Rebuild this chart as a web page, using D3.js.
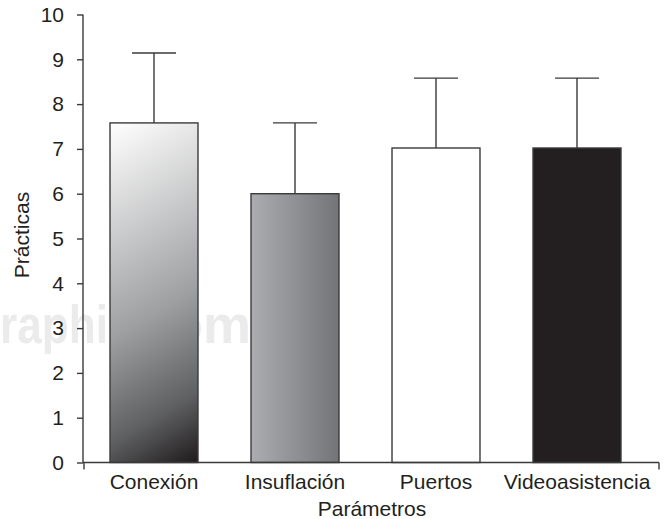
<!DOCTYPE html>
<html>
<head>
<meta charset="utf-8">
<script src="https://cdn.jsdelivr.net/npm/d3@7/dist/d3.min.js"></script>
<style>
  html, body { margin: 0; padding: 0; background: #fff; }
  svg { display: block; }
  text { font-family: "Liberation Sans", Arial, sans-serif; fill: #231f20; }
</style>
</head>
<body>
<script>
const categories = ["Conexión", "Insuflación", "Puertos", "Videoasistencia"];
const means = [7.58, 6.0, 7.02, 7.02];
const sds = [1.56, 1.58, 1.56, 1.56];
const yTicks = [0, 1, 2, 3, 4, 5, 6, 7, 8, 9, 10];
const xTitle = "Parámetros";
const yTitle = "Prácticas";

const W = 668, H = 519;
const axisColor = "#3a3a3a";

const svg = d3.select("body").append("svg").attr("width", W).attr("height", H);
const defs = svg.append("defs");

const y = d3.scaleLinear().domain([0, 10]).range([462.5, 14.5]);
const x = d3.scaleBand().domain(categories).range([83.5, 647.5])
  .paddingInner(0.376).paddingOuter(0.188);

// watermark
const wm = svg.append("g").attr("font-weight", "bold").attr("font-size", 54);
wm.append("text").attr("x", 0).attr("y", 343).attr("textLength", 108)
  .attr("lengthAdjust", "spacingAndGlyphs").style("fill", "#ebebeb").text("raphi");
wm.append("text").attr("x", 251).attr("y", 343).attr("text-anchor", "end").style("fill", "#ebebeb").text("om");

// gradients
const bw = x.bandwidth();
{
  const x0 = x(categories[0]), y0 = y(means[0]), h = y(0) - y(means[0]);
  const len = Math.hypot(0.6, 1);
  const ux = 0.6 / len, uy = 1 / len;
  const proj = bw * ux + h * uy;
  const g = defs.append("linearGradient").attr("id", "g0")
    .attr("gradientUnits", "userSpaceOnUse")
    .attr("x1", x0).attr("y1", y0)
    .attr("x2", x0 + ux * proj).attr("y2", y0 + uy * proj);
  g.append("stop").attr("offset", 0).attr("stop-color", "#ffffff");
  g.append("stop").attr("offset", 0.55).attr("stop-color", "#9fa0a2");
  g.append("stop").attr("offset", 0.82).attr("stop-color", "#5f6062");
  g.append("stop").attr("offset", 1).attr("stop-color", "#1e1a1b");
}
{
  const g = defs.append("linearGradient").attr("id", "g1")
    .attr("x1", 0).attr("y1", 0).attr("x2", 1).attr("y2", 0);
  g.append("stop").attr("offset", 0).attr("stop-color", "#abadb0");
  g.append("stop").attr("offset", 1).attr("stop-color", "#737477");
}
const fills = ["url(#g0)", "url(#g1)", "#ffffff", "#231f20"];

// bars
const bars = svg.append("g");
categories.forEach((c, i) => {
  const cx = x(c) + bw / 2;
  bars.append("line")
    .attr("x1", cx).attr("x2", cx)
    .attr("y1", y(means[i])).attr("y2", y(means[i] + sds[i]))
    .attr("stroke", axisColor).attr("stroke-width", 1.4);
  bars.append("line")
    .attr("x1", cx - 22).attr("x2", cx + 22)
    .attr("y1", y(means[i] + sds[i])).attr("y2", y(means[i] + sds[i]))
    .attr("stroke", axisColor).attr("stroke-width", 1.4);
  bars.append("rect")
    .attr("x", x(c)).attr("y", y(means[i]))
    .attr("width", bw).attr("height", y(0) - y(means[i]))
    .attr("fill", fills[i])
    .attr("stroke", axisColor).attr("stroke-width", 1.4);
});

// y axis
const yAxis = svg.append("g").attr("transform", "translate(83,0)")
  .call(d3.axisLeft(y).tickValues(yTicks).tickSize(6).tickPadding(13).tickFormat(d3.format("d")));
yAxis.select(".domain").attr("stroke", axisColor).attr("stroke-width", 1.4).attr("d", `M0,${y(10)}V${y(0)}`);
yAxis.selectAll(".tick line").attr("stroke", axisColor).attr("stroke-width", 1.4);
yAxis.selectAll(".tick text").attr("font-size", 21).attr("font-family", null).style("fill", "#231f20");

// x axis
const xAxisG = svg.append("g");
xAxisG.append("path")
  .attr("d", `M83,${y(0)}H659`)
  .attr("stroke", axisColor).attr("stroke-width", 1.4).attr("fill", "none");
xAxisG.append("path")
  .attr("d", `M84,${y(0)}V${y(0) + 7}M659,${y(0)}V${y(0) + 7}`)
  .attr("stroke", axisColor).attr("stroke-width", 1.4).attr("fill", "none");
categories.forEach((c) => {
  xAxisG.append("text")
    .attr("x", x(c) + bw / 2).attr("y", 489)
    .attr("text-anchor", "middle").attr("font-size", 21)
    .text(c);
});

// titles
svg.append("text").attr("x", 372).attr("y", 516).attr("text-anchor", "middle")
  .attr("font-size", 21).text(xTitle);
svg.append("text").attr("transform", "translate(29,235) rotate(-90)")
  .attr("text-anchor", "middle").attr("font-size", 21).text(yTitle);
</script>
</body>
</html>
